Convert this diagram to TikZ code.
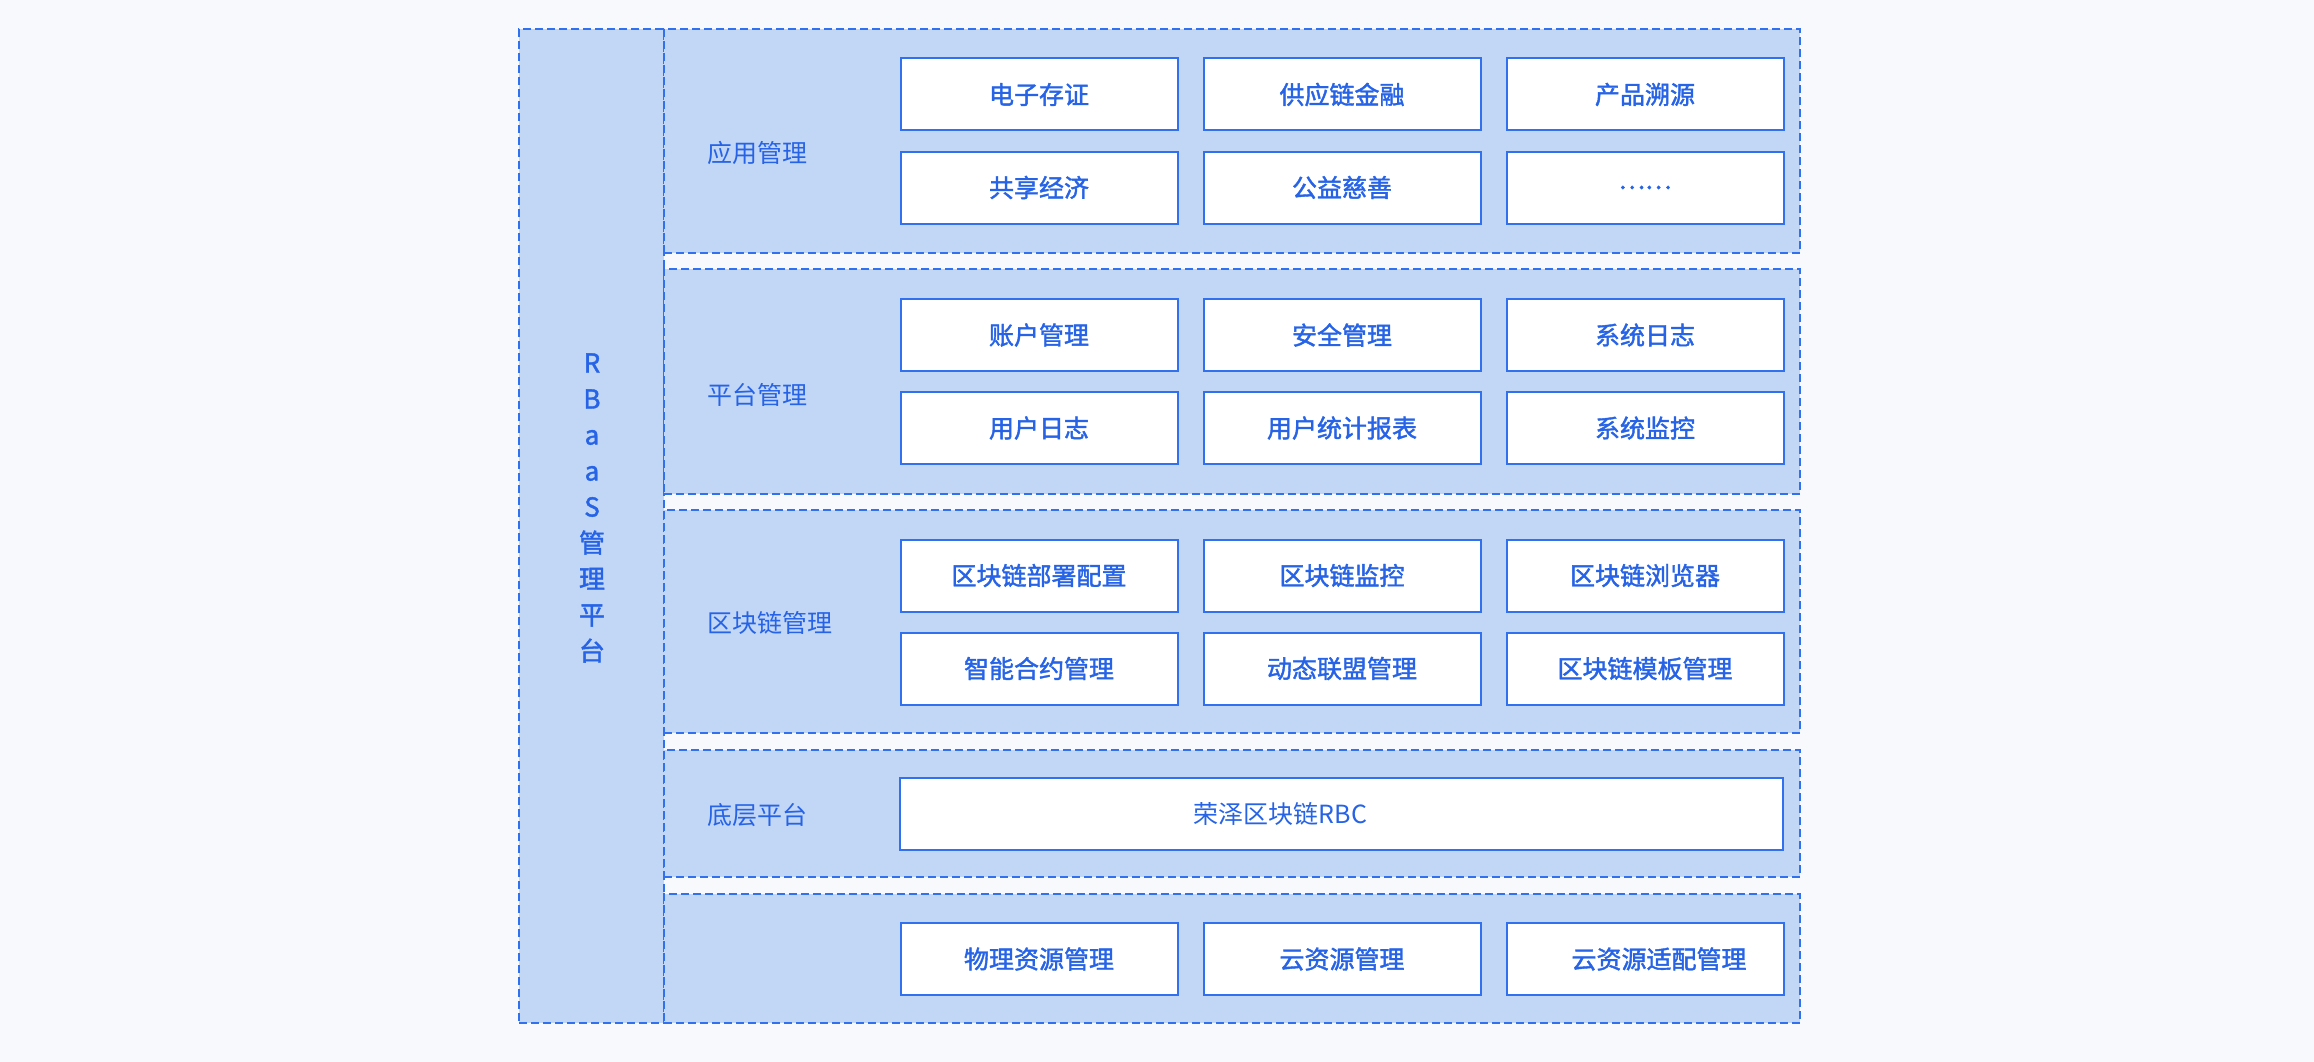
\documentclass[tikz,border=0pt]{standalone}
\usepackage{fontspec}
\setmainfont{Noto Sans CJK SC}
\newfontfamily\cjkmediu[FakeBold=1.6]{Noto Sans CJK SC}
\usetikzlibrary{positioning}
\definecolor{fundal}{HTML}{F7F9FD}
\definecolor{umplere}{HTML}{C2D6F6}
\definecolor{margine}{HTML}{3170EE}
\definecolor{scris}{HTML}{2663E6}

\begin{document}
\begin{tikzpicture}[
        x=1pt, y=-1pt,
        modul/.style={draw=margine, fill=white, line width=2pt, minimum width=277pt, minimum height=72pt,
            inner sep=0pt, outer sep=0pt, text=scris, font=\fontsize{25}{30}\selectfont\cjkmediu},
        strat/.style={draw=margine, fill=umplere, line width=2pt, dash pattern=on 8pt off 4pt,
            inner sep=0pt, outer sep=0pt, anchor=north west},
        titlu/.style={text=scris, font=\fontsize{25}{30}\selectfont, anchor=west, inner sep=0pt},
    ]
        \fill[fundal] (0,0) rectangle (2314,1062);
        \useasboundingbox (0,0) rectangle (2314,1062);
        % coloana din stanga
        \node[strat, minimum width=145pt, minimum height=994pt] (platforma) at (519,29) {};
        \node[text=scris, align=center, font=\fontsize{26}{36}\selectfont\cjkmediu] (rbaas) at (592,508)
            {R\\B\\a\\a\\S\\管\\理\\平\\台};
        % straturile
        \node[strat, minimum width=1136pt, minimum height=224pt] (s1) at (664,29) {};
        \node[strat, minimum width=1136pt, minimum height=225pt] (s2) at (664,269) {};
        \node[strat, minimum width=1136pt, minimum height=223pt] (s3) at (664,510) {};
        \node[strat, minimum width=1136pt, minimum height=127pt] (s4) at (664,750) {};
        \node[strat, minimum width=1136pt, minimum height=129pt] (s5) at (664,894) {};
        \node[titlu] (t1) at (707,153) {应用管理};
        \node[titlu] (t2) at (707,395) {平台管理};
        \node[titlu] (t3) at (707,623) {区块链管理};
        \node[titlu] (t4) at (707,815) {底层平台};
        % aplicatii
        \node[modul] (a1) at (1039,94.5) {电子存证};
        \node[modul, right=26pt of a1] (a2) {供应链金融};
        \node[modul, right=26pt of a2] (a3) {产品溯源};
        \node[modul, below=21pt of a1] (a4) {共享经济};
        \node[modul, right=26pt of a4] (a5) {公益慈善};
        \node[modul, right=26pt of a5] (a6) {……};
        % platforma
        \node[modul] (p1) at (1039,335) {账户管理};
        \node[modul, right=26pt of p1] (p2) {安全管理};
        \node[modul, right=26pt of p2] (p3) {系统日志};
        \node[modul, below=21pt of p1] (p4) {用户日志};
        \node[modul, right=26pt of p4] (p5) {用户统计报表};
        \node[modul, right=26pt of p5] (p6) {系统监控};
        % blockchain
        \node[modul] (b1) at (1039,575.5) {区块链部署配置};
        \node[modul, right=26pt of b1] (b2) {区块链监控};
        \node[modul, right=26pt of b2] (b3) {区块链浏览器};
        \node[modul, below=21pt of b1] (b4) {智能合约管理};
        \node[modul, right=26pt of b4] (b5) {动态联盟管理};
        \node[modul, right=26pt of b5] (b6) {区块链模板管理};
        % baza
        \node[modul, minimum width=883pt, font=\fontsize{25}{30}\selectfont] (rbc) at (1341.5,814)
            {\hspace*{-122pt}荣泽区块链RBC};
        % resurse
        \node[modul] (r1) at (1039,959) {物理资源管理};
        \node[modul, right=26pt of r1] (r2) {云资源管理};
        \node[modul, right=26pt of r2] (r3) {\hspace*{28pt}云资源适配管理};
    \end{tikzpicture}
\end{document}
